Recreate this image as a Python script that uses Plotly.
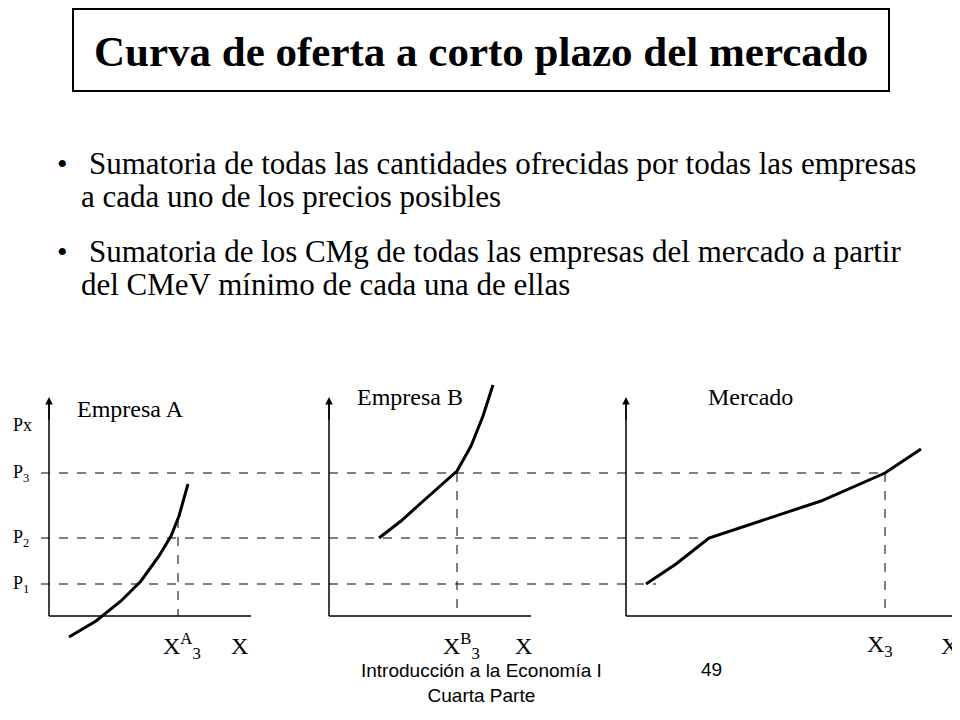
import plotly.graph_objects as go

# curve points in slide coordinates (x right, y down)
curve_a_x = [68, 95, 120, 140, 158, 170, 178, 184, 187]
curve_a_y = [636, 620, 600, 580, 555, 535, 515, 495, 483]
curve_b_x = [378, 400, 420, 440, 456, 470, 482, 492]
curve_b_y = [537, 520, 502, 484, 470, 445, 415, 384]
market_x = [645, 675, 708, 760, 820, 884, 920]
market_y = [583, 563, 537, 520, 500, 472, 448]

price_levels = {"P<sub>3</sub>": 472, "P<sub>2</sub>": 537, "P<sub>1</sub>": 583}
price_line_end = [880, 710, 655]

serif = "Liberation Serif"
fig = go.Figure()
for xs, ys in [(curve_a_x, curve_a_y), (curve_b_x, curve_b_y), (market_x, market_y)]:
    fig.add_trace(go.Scatter(x=xs, y=ys, mode="lines", line=dict(color="black", width=3),
                             hoverinfo="skip", showlegend=False))

shapes = [dict(type="rect", x0=72, x1=888, y0=8, y1=90, line=dict(color="black", width=2))]
for (lab, y), xe in zip(price_levels.items(), price_line_end):
    shapes.append(dict(type="line", x0=40, x1=xe, y0=y, y1=y, line=dict(color="black", width=1, dash="dash")))
for x, y in [(177, 518), (456, 472), (884, 472)]:
    shapes.append(dict(type="line", x0=x, x1=x, y0=y, y1=615, line=dict(color="black", width=1, dash="dash")))
for x0, x1 in [(48, 250), (328, 530), (625, 958)]:
    shapes.append(dict(type="line", x0=x0, x1=x0, y0=615, y1=400, line=dict(color="black", width=1.5)))
    shapes.append(dict(type="line", x0=x0, x1=x1, y0=615, y1=615, line=dict(color="black", width=1.5)))

ann = []
def t(x, y, s, size=26, font=serif, anchor="left", **kw):
    ann.append(dict(x=x, y=y, text=s, showarrow=False, xanchor=anchor, yanchor="middle",
                    font=dict(family=font, size=size, color="black"), **kw))

t(480, 50, "<b>Curva de oferta a corto plazo del mercado</b>", 43, anchor="center")
t(54, 162, "•", 30); t(86, 162, "Sumatoria de todas las cantidades ofrecidas por todas las empresas", 31)
t(78, 195, "a cada uno de los precios posibles", 31)
t(54, 250, "•", 30); t(86, 250, "Sumatoria de los CMg de todas las empresas del mercado a partir", 31)
t(78, 283, "del CMeV mínimo de cada una de ellas", 31)
t(74, 408, "Empresa A", 24); t(354, 396, "Empresa B", 24); t(705, 396, "Mercado", 24)
t(10, 424, "Px", 18)
for lab, y in price_levels.items():
    t(10, y, lab, 18)
t(160, 645, "X<sup>A</sup><sub>3</sub>", 24); t(228, 645, "X", 24)
t(440, 645, "X<sup>B</sup><sub>3</sub>", 24); t(512, 645, "X", 24)
t(864, 645, "X<sub>3</sub>", 24); t(938, 645, "X", 24)
t(480, 682, "Introducción a la Economía I<br>Cuarta Parte", 19, "Liberation Sans", "center")
t(710, 668, "49", 19, "Liberation Sans", "center")
for x in [48, 328, 625]:
    ann.append(dict(x=x, y=396, ax=x, ay=420, xref="x", yref="y", axref="x", ayref="y", text="",
                    showarrow=True, arrowhead=2, arrowsize=1, arrowwidth=1.5, arrowcolor="black"))

# page has an 8px body margin, so shift the coordinate window to compensate
fig.update_layout(width=960, height=720, margin=dict(l=0, r=0, t=0, b=0),
                  plot_bgcolor="white", paper_bgcolor="white", shapes=shapes, annotations=ann,
                  xaxis=dict(range=[7, 967], visible=False, fixedrange=True),
                  yaxis=dict(range=[727, 7], visible=False, fixedrange=True))
fig.write_html("out.html")
